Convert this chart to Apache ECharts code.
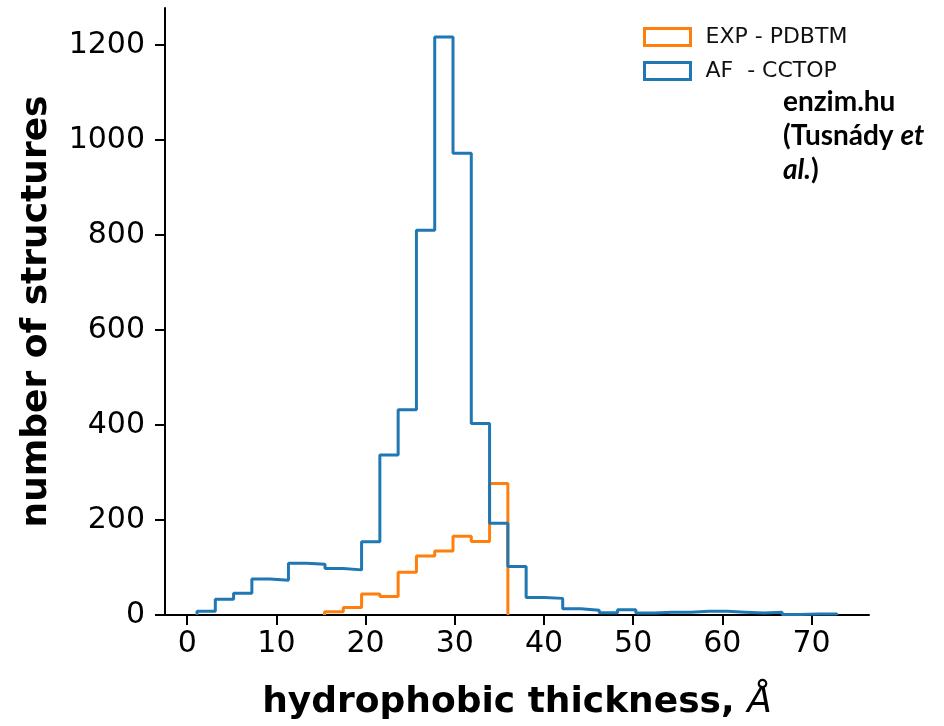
<!DOCTYPE html>
<html>
<head>
<meta charset="utf-8">
<script src="https://cdn.jsdelivr.net/npm/echarts@6/dist/echarts.min.js"></script>
<style>
  html, body { margin: 0; padding: 0; background: #fff; }
  #chart { width: 944px; height: 726px; }
</style>
</head>
<body>
<div id="chart"></div>
<script>
// histogram bin edges (hydrophobic thickness, Å)
const afEdges = [1.1, 3.15, 5.2, 7.25, 9.3, 11.35, 13.4, 15.45, 17.5, 19.55, 21.6, 23.65,
  25.7, 27.75, 29.8, 31.85, 33.9, 35.95, 38.0, 40.05, 42.1, 44.15, 46.2, 48.25, 50.3,
  52.35, 54.4, 56.45, 58.5, 60.55, 62.6, 64.65, 66.7, 68.75, 70.8, 72.85]
// AF - CCTOP counts per bin
const afCounts = [8, 33, 46, 76, 73, 109, 107, 98, 95, 154, 337, 432, 810, 1217, 972, 403,
  193, 102, 37, 35, 13, 10, 5, 11, 4, 6, 6, 8, 8, 6, 4, 6, 1, 2, 2]

const expEdges = [15.4, 17.5, 19.55, 21.6, 23.65, 25.7, 27.75, 29.8, 31.85, 33.9, 35.95]
// EXP - PDBTM counts per bin
const expCounts = [7, 16, 44, 39, 90, 124, 135, 166, 155, 277]

const xTicks = [0, 10, 20, 30, 40, 50, 60, 70]
const yTicks = [0, 200, 400, 600, 800, 1000, 1200]

// outline of a step histogram
function stepPoints (edges, counts) {
  let pts = [[edges[0], 0]]
  counts.forEach((c, i) => {
    pts.push([edges[i], c])
    pts.push([edges[i + 1], c])
  })
  pts.push([edges[edges.length - 1], 0])
  return pts
}

const ORANGE = '#ff7f0e'
const BLUE = '#1f77b4'
const FONT = 'DejaVu Sans'

let chart = echarts.init(document.getElementById('chart'))
chart.setOption({
  animation: false,
  textStyle: { fontFamily: FONT, color: '#000' },
  grid: { left: 165, right: 75, top: 8, bottom: 111 },
  legend: {
    orient: 'vertical',
    left: 643,
    top: 26,
    padding: 0,
    itemWidth: 46,
    itemHeight: 17,
    itemGap: 12,
    textStyle: { fontFamily: FONT, fontSize: 22, color: '#111', padding: [0, 0, 0, 10] },
    data: [
      { name: 'EXP - PDBTM', icon: 'rect', itemStyle: { color: '#fff', borderColor: ORANGE, borderWidth: 3 } },
      { name: 'AF  - CCTOP', icon: 'rect', itemStyle: { color: '#fff', borderColor: BLUE, borderWidth: 3 } }
    ]
  },
  xAxis: {
    type: 'value',
    min: -2.49,
    max: 76.44,
    splitLine: { show: false },
    axisLine: { onZero: false, lineStyle: { color: '#000', width: 2 } },
    axisTick: { length: 10, lineStyle: { color: '#000', width: 2 }, customValues: xTicks },
    axisLabel: { fontFamily: FONT, fontSize: 30, color: '#000', margin: 14, customValues: xTicks },
    name: '{b|hydrophobic thickness, }{i|Å}',
    nameLocation: 'middle',
    nameGap: 70,
    nameTextStyle: {
      rich: {
        b: { fontFamily: FONT, fontSize: 36, fontWeight: 'bold', color: '#000' },
        i: { fontFamily: FONT, fontSize: 36, fontStyle: 'italic', color: '#000' }
      }
    }
  },
  yAxis: {
    type: 'value',
    min: 0,
    max: 1278,
    splitLine: { show: false },
    axisLine: { show: true, onZero: false, lineStyle: { color: '#000', width: 2 } },
    axisTick: { show: true, length: 10, lineStyle: { color: '#000', width: 2 }, customValues: yTicks },
    axisLabel: {
      fontFamily: FONT,
      fontSize: 30,
      color: '#000',
      margin: 20,
      customValues: yTicks,
      formatter: v => String(v)
    },
    name: 'number of structures',
    nameLocation: 'middle',
    nameGap: 110,
    nameTextStyle: { fontFamily: FONT, fontSize: 36, fontWeight: 'bold', color: '#000' }
  },
  series: [
    {
      name: 'EXP - PDBTM',
      type: 'line',
      symbol: 'none',
      lineStyle: { color: ORANGE, width: 3 },
      itemStyle: { color: ORANGE },
      data: stepPoints(expEdges, expCounts)
    },
    {
      name: 'AF  - CCTOP',
      type: 'line',
      symbol: 'none',
      lineStyle: { color: BLUE, width: 3 },
      itemStyle: { color: BLUE },
      data: stepPoints(afEdges, afCounts)
    }
  ],
  graphic: [
    {
      type: 'text',
      left: 783,
      top: 85,
      style: {
        text: 'enzim.hu\n(Tusnády {it|et}\n{it|al.})',
        fontFamily: 'Lato',
        fontSize: 28,
        fontWeight: 'bold',
        lineHeight: 34,
        fill: '#000',
        rich: {
          it: { fontFamily: 'Lato', fontSize: 28, fontWeight: 'bold', fontStyle: 'italic', lineHeight: 34, fill: '#000' }
        }
      }
    }
  ]
})
</script>
</body>
</html>
